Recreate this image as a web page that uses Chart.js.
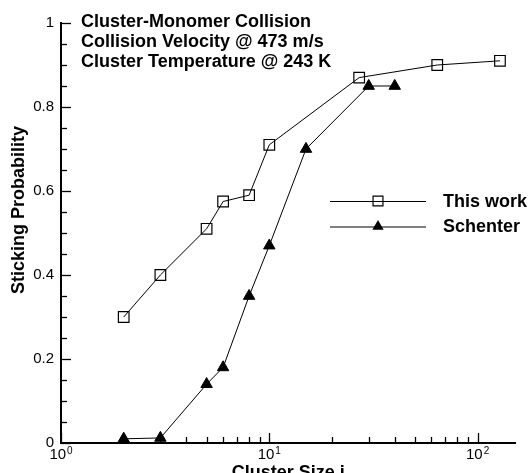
<!DOCTYPE html>
<html>
<head>
<meta charset="utf-8">
<script src="https://cdn.jsdelivr.net/npm/chart.js@4.4.1/dist/chart.umd.min.js"></script>
<style>
  html, body { margin: 0; padding: 0; background: #fff; }
  #wrap { width: 530px; height: 473px; }
</style>
</head>
<body>
<div id="wrap"><canvas id="myChart"></canvas></div>
<script>
// data
const sizeThisWork = [2, 3, 5, 6, 8, 10, 27, 64, 128];
const probThisWork = [0.30, 0.40, 0.51, 0.575, 0.59, 0.71, 0.87, 0.90, 0.91];
const sizeSchenter = [2, 3, 5, 6, 8, 10, 15, 30, 40];
const probSchenter = [0.01, 0.012, 0.14, 0.18, 0.35, 0.47, 0.70, 0.85, 0.85];

const seriesNames = ["This work", "Schenter"];
const noteLines = [
  "Cluster-Monomer Collision",
  "Collision Velocity @ 473 m/s",
  "Cluster Temperature @ 243 K",
];

const xMajorTicks = [1, 10, 100];
const xTickExponents = ["0", "1", "2"];
const xMinorTicks = [2, 3, 4, 5, 6, 7, 8, 9, 20, 30, 40, 50, 60, 70, 80, 90];
const yMajorTicks = [0, 0.2, 0.4, 0.6, 0.8, 1];
const yMinorTicks = [0.05, 0.1, 0.15, 0.25, 0.3, 0.35, 0.45, 0.5, 0.55,
  0.65, 0.7, 0.75, 0.85, 0.9, 0.95];

const FONT = '"Liberation Sans", Arial, Helvetica, sans-serif';

const toPoints = (xs, ys) => xs.map((x, i) => ({ x: x, y: ys[i] }));

// square / triangle like chart.js draws them
const drawSquare = (ctx, x, y, r) => {
  const s = Math.SQRT1_2 * r;
  ctx.beginPath();
  ctx.rect(x - s, y - s, 2 * s, 2 * s);
  ctx.stroke();
};
const drawTriangle = (ctx, x, y, r) => {
  ctx.beginPath();
  ctx.moveTo(x, y - r);
  ctx.lineTo(x + Math.sin(2 * Math.PI / 3) * r, y + r / 2);
  ctx.lineTo(x - Math.sin(2 * Math.PI / 3) * r, y + r / 2);
  ctx.closePath();
  ctx.fill();
};

const extrasPlugin = {
  id: "extras",
  afterDraw: (chart) => {
    const ctx = chart.ctx;
    const xs = chart.scales.x;
    const ys = chart.scales.y;
    const area = chart.chartArea;
    ctx.save();
    ctx.strokeStyle = "#000";
    ctx.fillStyle = "#000";

    // inward tick marks
    ctx.lineWidth = 1.3;
    const tickX = (v, len) => {
      const px = Math.round(xs.getPixelForValue(v)) + 0.5;
      ctx.beginPath();
      ctx.moveTo(px, area.bottom);
      ctx.lineTo(px, area.bottom - len);
      ctx.stroke();
    };
    const tickY = (v, len) => {
      const py = Math.round(ys.getPixelForValue(v)) + 0.5;
      ctx.beginPath();
      ctx.moveTo(area.left, py);
      ctx.lineTo(area.left + len, py);
      ctx.stroke();
    };
    xMajorTicks.forEach((v) => tickX(v, 10));
    xMinorTicks.forEach((v) => tickX(v, 6));
    yMajorTicks.forEach((v) => tickY(v, 10));
    yMinorTicks.forEach((v) => tickY(v, 6));

    // x tick labels with exponents
    ctx.textBaseline = "alphabetic";
    xMajorTicks.forEach((v, i) => {
      const px = xs.getPixelForValue(v);
      ctx.font = "15px " + FONT;
      const wBase = ctx.measureText("10").width;
      ctx.font = "10px " + FONT;
      const wExp = ctx.measureText(xTickExponents[i]).width;
      const left = px - (wBase + wExp + 1) / 2;
      ctx.textAlign = "left";
      ctx.font = "15px " + FONT;
      ctx.fillText("10", left, 459);
      ctx.font = "10px " + FONT;
      ctx.fillText(xTickExponents[i], left + wBase + 1, 454);
    });

    // axis titles
    ctx.font = "bold 18px " + FONT;
    ctx.textAlign = "center";
    ctx.textBaseline = "middle";
    ctx.fillText("Cluster Size i", (area.left + area.right) / 2, 473);
    ctx.save();
    ctx.translate(19, 210);
    ctx.rotate(-Math.PI / 2);
    ctx.fillText("Sticking Probability", 0, 0);
    ctx.restore();

    // note at top left
    ctx.textAlign = "left";
    ctx.textBaseline = "alphabetic";
    noteLines.forEach((line, i) => ctx.fillText(line, 81, 27 + i * 20.2));

    // legend
    const legY = [201, 226.5];
    ctx.lineWidth = 1;
    legY.forEach((y, i) => {
      ctx.beginPath();
      ctx.moveTo(330, y + 0.5);
      ctx.lineTo(426, y + 0.5);
      ctx.stroke();
      ctx.lineWidth = 1.2;
      if (i === 0) drawSquare(ctx, 378, y, 7);
      else drawTriangle(ctx, 378, y, 6.5);
      ctx.lineWidth = 1;
      ctx.textBaseline = "middle";
      ctx.fillText(seriesNames[i], 443, y + 1);
    });
    ctx.restore();
  },
};

const ctx = document.getElementById("myChart");

new Chart(ctx, {
  type: "line",
  data: {
    datasets: [
      {
        label: seriesNames[0],
        data: toPoints(sizeThisWork, probThisWork),
        borderColor: "#000",
        borderWidth: 1,
        pointStyle: "rect",
        pointRadius: 7.5,
        pointBorderWidth: 1.2,
        pointBorderColor: "#000",
        pointBackgroundColor: "rgba(255,255,255,0)",
        tension: 0,
      },
      {
        label: seriesNames[1],
        data: toPoints(sizeSchenter, probSchenter),
        borderColor: "#000",
        borderWidth: 1,
        pointStyle: "triangle",
        pointRadius: 6.6,
        pointBorderWidth: 1,
        pointBorderColor: "#000",
        pointBackgroundColor: "#000",
        tension: 0,
      },
    ],
  },
  options: {
    responsive: true,
    maintainAspectRatio: false,
    animation: false,
    layout: { padding: { top: 23, right: 14.5, left: 0, bottom: 0 } },
    plugins: { legend: { display: false }, tooltip: { enabled: false } },
    scales: {
      x: {
        type: "logarithmic",
        min: 1,
        max: 152,
        grid: { display: false, drawTicks: false },
        border: { display: true, color: "#000", width: 2 },
        ticks: { display: false },
        afterFit: (s) => { s.height = 30; },
      },
      y: {
        type: "linear",
        min: 0,
        max: 1,
        grid: { display: false, drawTicks: false },
        border: { display: true, color: "#000", width: 2 },
        afterBuildTicks: (s) => { s.ticks = yMajorTicks.map((v) => ({ value: v })); },
        ticks: {
          color: "#000",
          padding: 7,
          font: { family: FONT, size: 15 },
          callback: (v) => String(v),
        },
        afterFit: (s) => { s.width = 61; },
      },
    },
  },
  plugins: [extrasPlugin],
});
</script>
</body>
</html>
